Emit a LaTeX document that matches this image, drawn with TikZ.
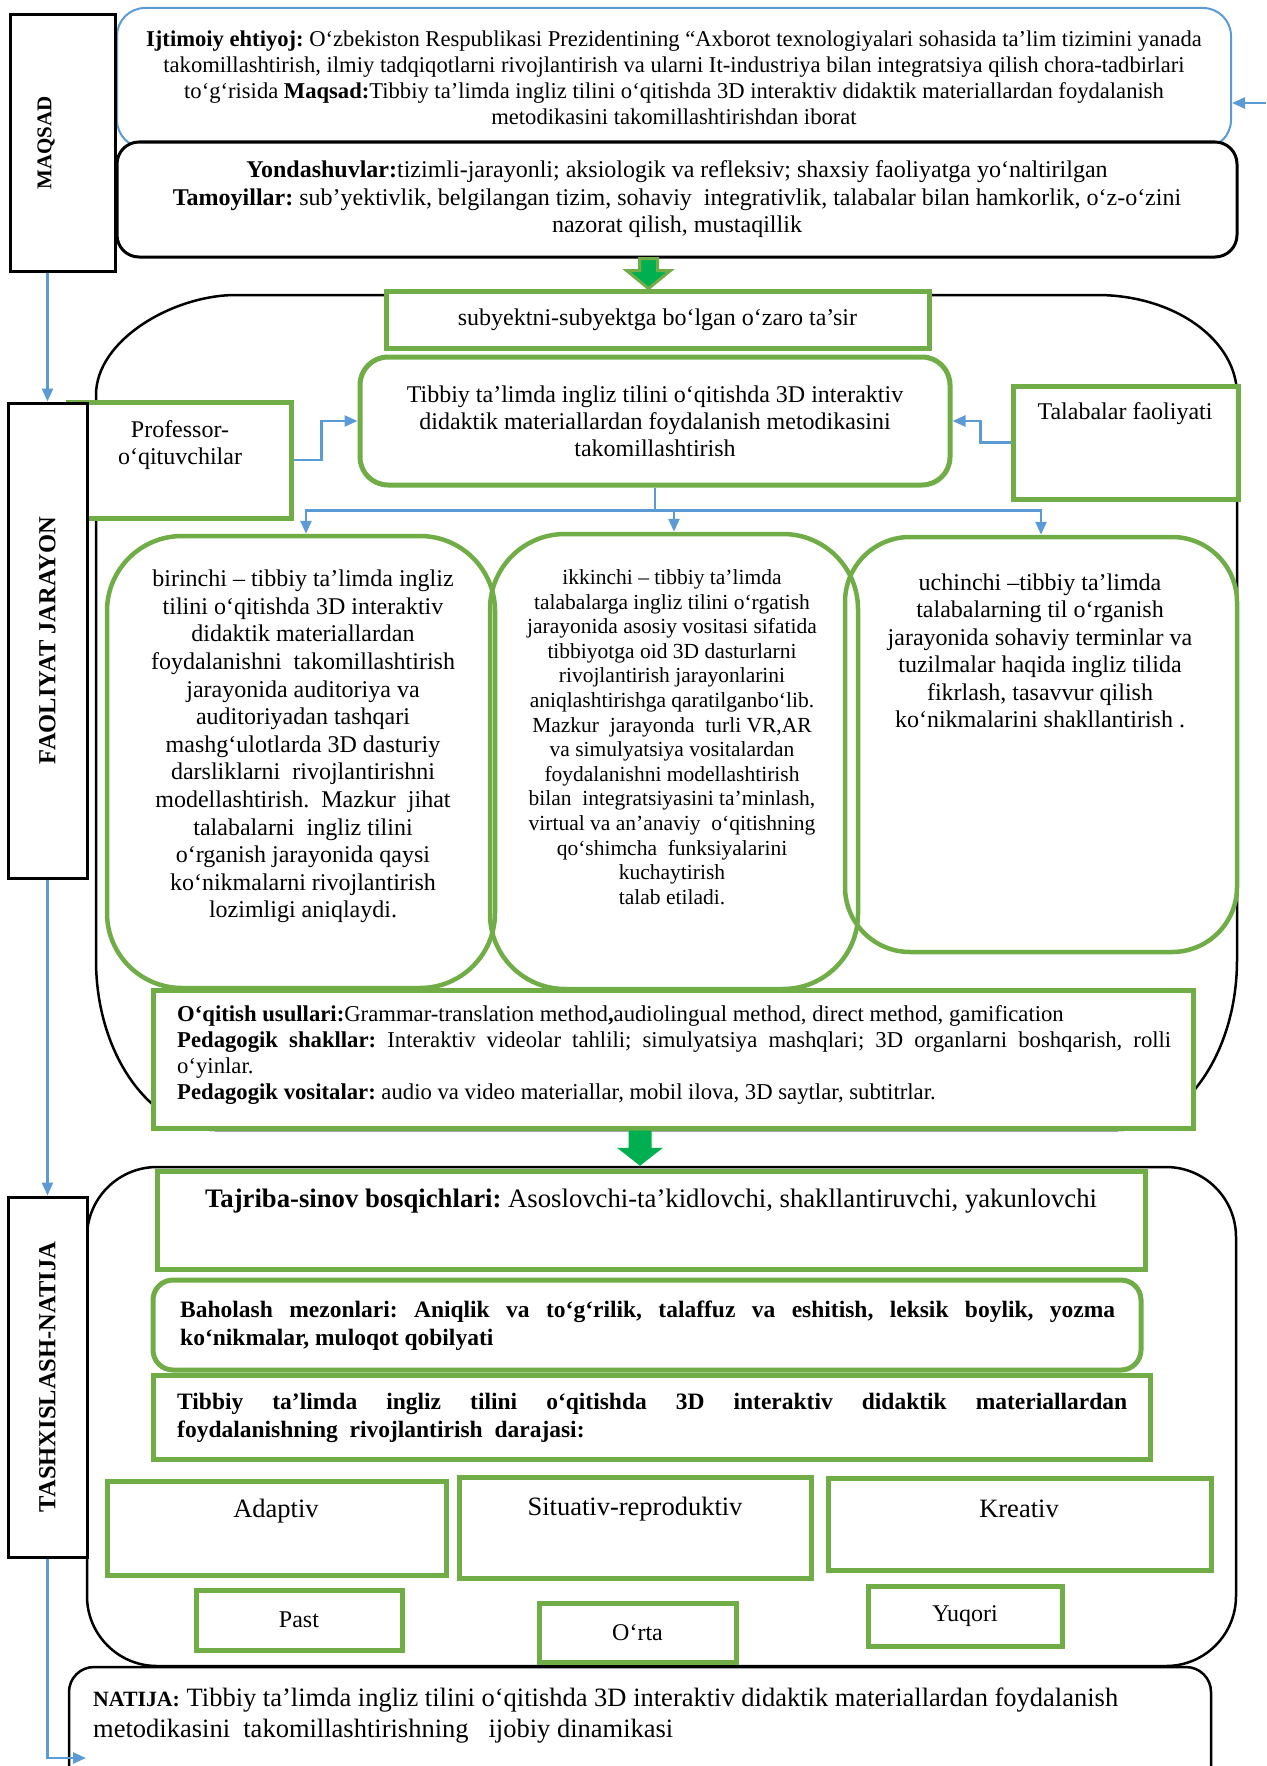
\documentclass[tikz,border=0pt]{standalone}
\usepackage{fontspec}
\usepackage{graphicx}
\setmainfont{Liberation Serif}
\usetikzlibrary{arrows.meta,calc}
\definecolor{gL}{HTML}{70AD47}
\definecolor{gD}{HTML}{00B050}
\definecolor{bl}{HTML}{5B9BD5}
\newcommand\fsz[2]{\fontsize{#1}{#2}\selectfont}
\frenchspacing
\begin{document}
\begin{tikzpicture}[x=1pt,y=-1pt,
 gbox/.style={draw=gL,line width=5pt,fill=white,inner sep=0pt},
 gline/.style={draw=gL,line width=4.5pt,inner sep=0pt},
 kbox/.style={draw=black,line width=3pt,fill=white,inner sep=0pt},
 lblbox/.style={draw=black,line width=3pt,fill=white,inner sep=0pt,font=\bfseries\fsz{24.5}{28}},
 barrow/.style={draw=bl,line width=2.5pt,-{Triangle[length=13pt,width=11pt]}},
 txt/.style={inner sep=0pt,align=center},
 ltxt/.style={inner sep=0pt,align=left,anchor=west},
]
\useasboundingbox (0,0) rectangle (1266,1766);

% ---------- MAQSAD part ----------
\node[draw=bl,line width=2pt,fill=white,rounded corners=28pt,minimum width=1114pt,minimum height=140pt,txt,font=\fsz{22.6}{26}] (ijt) at (674,78)
{\textbf{Ijtimoiy ehtiyoj:} O‘zbekiston Respublikasi Prezidentining “Axborot texnologiyalari sohasida ta’lim tizimini yanada\\
takomillashtirish, ilmiy tadqiqotlarni rivojlantirish va ularni It-industriya bilan integratsiya qilish chora-tadbirlari\\
to‘g‘risida \textbf{Maqsad:}Tibbiy ta’limda ingliz tilini o‘qitishda 3D interaktiv didaktik materiallardan foydalanish\\
metodikasini takomillashtirishdan iborat};
\coordinate (rin) at (1266,103);
\draw[barrow] (rin) -- (rin -| ijt.east);

\node[kbox,rounded corners=22pt,minimum width=1120pt,minimum height=115pt,txt,font=\fsz{24}{27.5}] (yond) at (677,199.5)
{\textbf{Yondashuvlar:}tizimli-jarayonli; aksiologik va refleksiv; shaxsiy faoliyatga yo‘naltirilgan\\
\textbf{Tamoyillar:} sub’yektivlik, belgilangan tizim, sohaviy~ integrativlik, talabalar bilan hamkorlik, o‘z-o‘zini\\
nazorat qilish, mustaqillik};

% ---------- FAOLIYAT part ----------
\draw[line width=2.5pt] (96,395) .. controls (96,339.8) and (173.3,295) .. (236,295)
 -- (1097,295) .. controls (1174.3,295) and (1237,339.8) .. (1237,395)
 -- (1237,960) .. controls (1237,1053.8) and (1183.2,1130) .. (1117,1130)
 -- (216,1130) .. controls (149.8,1130) and (96,1053.8) .. (96,960) -- cycle;

\node[gbox,minimum width=543pt,minimum height=57pt,font=\fsz{24}{27}] (subj) at (657.5,319.5) {subyektni-subyektga bo‘lgan o‘zaro ta’sir};

\coordinate (a1e) at ([xshift=-9pt]subj.north);
\coordinate (a1s) at (a1e |- yond.south);
\filldraw[fill=gD,draw=gL,line width=3pt] ($(a1s)+(-9,0)$) -- ($(a1e)+(-9,-18)$) -- ($(a1e)+(-22,-18)$) -- (a1e)
 -- ($(a1e)+(22,-18)$) -- ($(a1e)+(9,-18)$) -- ($(a1s)+(9,0)$) -- cycle;

\node[gbox,rounded corners=28pt,minimum width=590pt,minimum height=128pt,txt,font=\fsz{24}{27}] (cen) at (655,421)
{Tibbiy ta’limda ingliz tilini o‘qitishda 3D interaktiv\\ didaktik materiallardan foydalanish metodikasini\\ takomillashtirish};

\node[gbox,minimum width=223pt,minimum height=116pt] (prof) at (179.5,460) {};
\node[txt,font=\fsz{24}{27}] (proft) at (180,445) {Professor-\\o‘qituvchilar};
\node[gbox,minimum width=225pt,minimum height=113pt] (tal) at (1125.5,442.5) {};
\node[txt,font=\fsz{24}{27}] (talt) at (1125,414) {Talabalar faoliyati};

\draw[barrow] (prof.east) -- ++(28,0) |- (cen.west);
\draw[barrow] (tal.west) -- ++(-30,0) |- (cen.east);

\node[gline,rounded corners=75pt,minimum width=388pt,minimum height=452pt] (b1) at (301,762) {};
\node[gline,rounded corners=75pt,minimum width=368pt,minimum height=455pt] (b2) at (674,761.5) {};
\node[gline,rounded corners=65pt,minimum width=392pt,minimum height=415pt] (b3) at (1041,744.5) {};

\draw[barrow] (cen.south) -- ++(0,23) -| ([xshift=5pt]b1.north);
\draw[barrow] (cen.south) -- ++(0,23) -| (b2.north);
\draw[barrow] (cen.south) -- ++(0,23) -| (b3.north);

\node[txt,font=\fsz{24}{27.6}] (b1t) at (303,746.5)
{birinchi – tibbiy ta’limda ingliz\\
tilini o‘qitishda 3D interaktiv\\
didaktik materiallardan\\
foydalanishni~ takomillashtirish\\
jarayonida auditoriya va\\
auditoriyadan tashqari\\
mashg‘ulotlarda 3D dasturiy\\
darsliklarni~ rivojlantirishni\\
modellashtirish.~ Mazkur~ jihat\\
talabalarni~ ingliz tilini\\
o‘rganish jarayonida qaysi\\
ko‘nikmalarni rivojlantirish\\
lozimligi aniqlaydi.};

\node[txt,font=\fsz{21.5}{24.6}] (b2t) at (672,737)
{ikkinchi – tibbiy ta’limda\\
talabalarga ingliz tilini o‘rgatish\\
jarayonida asosiy vositasi sifatida\\
tibbiyotga oid 3D dasturlarni\\
rivojlantirish jarayonlarini\\
aniqlashtirishga qaratilganbo‘lib.\\
Mazkur~ jarayonda~ turli VR,AR\\
va simulyatsiya vositalardan\\
foydalanishni modellashtirish\\
bilan~ integratsiyasini ta’minlash,\\
virtual va an’anaviy~ o‘qitishning\\
qo‘shimcha~ funksiyalarini\\
kuchaytirish\\
talab etiladi.};

\node[txt,font=\fsz{24}{27.5}] (b3t) at (1040,651)
{uchinchi –tibbiy ta’limda\\
talabalarning til o‘rganish\\
jarayonida sohaviy terminlar va\\
tuzilmalar haqida ingliz tilida\\
fikrlash, tasavvur qilish\\
ko‘nikmalarini shakllantirish .};

\node[gbox,minimum width=1040pt,minimum height=138pt] (meth) at (673,1059) {};
\node[ltxt,font=\fsz{22.7}{26}] (metht) at (177,1055)
{\textbf{O‘qitish usullari:}Grammar-translation method\textbf{,}audiolingual method, direct method, gamification\\
\makebox[994pt][s]{\textbf{Pedagogik shakllar:} Interaktiv videolar tahlili; simulyatsiya mashqlari; 3D organlarni boshqarish, rolli}\\
o‘yinlar.\\
\textbf{Pedagogik vositalar:} audio va video materiallar, mobil ilova, 3D saytlar, subtitrlar.};

% ---------- TASHXISLASH part ----------
\node[draw=black,line width=2.5pt,rounded corners=70pt,minimum width=1149pt,minimum height=499pt,inner sep=0pt] (tbig) at (661.5,1416.5) {};

\coordinate (a2s) at ([xshift=-33pt]meth.south);
\coordinate (a2e) at (a2s |- tbig.north);
\fill[gD] ($(a2s)+(-11.5,0)$) -- ($(a2e)+(-11.5,-18)$) -- ($(a2e)+(-23,-18)$) -- (a2e)
 -- ($(a2e)+(23,-18)$) -- ($(a2e)+(11.5,-18)$) -- ($(a2s)+(11.5,0)$) -- cycle;

\node[gbox,minimum width=988pt,minimum height=98pt] (taj) at (651,1220) {};
\node[txt,font=\fsz{26.7}{30}] (tajt) at (651,1201) {\textbf{Tajriba-sinov bosqichlari:} Asoslovchi-ta’kidlovchi, shakllantiruvchi, yakunlovchi};

\node[gbox,rounded corners=20pt,minimum width=988pt,minimum height=90pt] (bah) at (647,1325) {};
\node[ltxt,font=\bfseries\fsz{23.5}{28}] (baht) at (180,1326)
{\makebox[935pt][s]{Baholash mezonlari: Aniqlik va to‘g‘rilik, talaffuz va eshitish, leksik boylik, yozma}\\
ko‘nikmalar, muloqot qobilyati};

\node[gbox,minimum width=997pt,minimum height=84pt] (tib) at (651.5,1417) {};
\node[ltxt,font=\bfseries\fsz{23.5}{28}] (tibt) at (177,1418)
{\makebox[950pt][s]{Tibbiy ta’limda ingliz tilini o‘qitishda 3D interaktiv didaktik materiallardan}\\
foydalanishning~ rivojlantirish~ darajasi:};

\node[gbox,minimum width=339pt,minimum height=94pt] (ad) at (276.5,1528) {};
\node[txt,font=\fsz{26.5}{30}] (adt) at (276,1511) {Adaptiv};
\node[gbox,minimum width=352pt,minimum height=101pt] (sit) at (635,1527.5) {};
\node[txt,font=\fsz{26.5}{30}] (sitt) at (635,1509) {Situativ-reproduktiv};
\node[gbox,minimum width=383pt,minimum height=92pt] (kre) at (1019.5,1524) {};
\node[txt,font=\fsz{26.5}{30}] (kret) at (1019,1509) {Kreativ};

\node[gbox,minimum width=206pt,minimum height=60pt,font=\fsz{24}{27}] (past) at (299,1620) {Past};
\node[gbox,minimum width=197pt,minimum height=59pt,font=\fsz{24}{27}] (orta) at (637.5,1632.5) {O‘rta};
\node[gbox,minimum width=194pt,minimum height=60pt,font=\fsz{24}{27}] (yuq) at (965,1616) {Yuqori};

\node[draw=black,line width=2.5pt,fill=white,rounded corners=25pt,minimum width=1142pt,minimum height=140pt,inner sep=0pt] (nat) at (640,1737) {};
\node[ltxt,font=\fsz{26.5}{31}] (natt) at (93,1715.5)
{{\bfseries\fsz{21.8}{31}NATIJA:} Tibbiy ta’limda ingliz tilini o‘qitishda 3D interaktiv didaktik materiallardan foydalanish\\
metodikasini~ takomillashtirishning~~ ijobiy dinamikasi};

% ---------- side labels ----------
\node[lblbox,minimum width=105pt,minimum height=256pt] (lblM) at (62.5,143) {};
\node[inner sep=0pt,font=\bfseries\fsz{21}{24}] (lblMt) at (46,143) {\rotatebox{90}{MAQSAD}};
\node[lblbox,minimum width=79pt,minimum height=475pt] (lblF) at (47.5,640.5) {\rotatebox{90}{FAOLIYAT JARAYON}};
\node[lblbox,minimum width=79pt,minimum height=360pt] (lblT) at (47.5,1377) {\rotatebox{90}{TASHXISLASH-NATIJA}};

\draw[barrow] (lblM.south -| lblF.north) -- (lblF.north);
\draw[barrow] (lblF.south) -- (lblT.north);
\coordinate (natin) at (86,1758);
\draw[barrow] (lblT.south) |- (natin);
\end{tikzpicture}
\end{document}
